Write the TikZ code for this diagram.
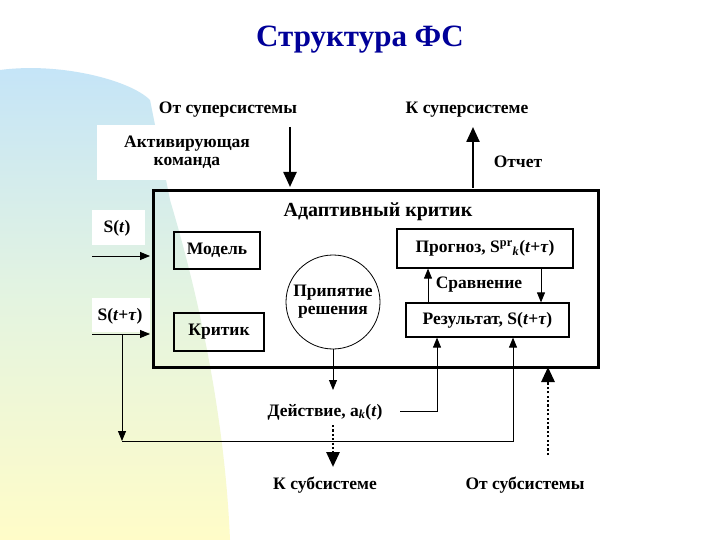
\documentclass[tikz,border=0pt]{standalone}
\usepackage{fontspec}
\setmainfont{Liberation Serif}
\usetikzlibrary{arrows.meta}
\definecolor{skyb}{HTML}{C4E4F8}
\definecolor{paley}{HTML}{FFFCC8}
\definecolor{midg}{HTML}{E4F4E0}
\begin{document}
\begin{tikzpicture}[x=1pt,y=-1pt,
  lbl/.style={font=\bfseries\fontsize{17.5}{18}\selectfont,align=center,inner sep=1pt},
  box/.style={draw,line width=1.2pt,inner sep=0pt},
  ar/.style={-{Triangle[length=10pt,width=8pt]},line width=0.9pt},
  bigar/.style={-{Triangle[length=15pt,width=13pt]},line width=2.4pt},
  dotar/.style={-{Triangle[length=15pt,width=13pt]},line width=2.8pt,dash pattern=on 2.2pt off 2.2pt}]
\useasboundingbox (0,0) rectangle (720,540);
\fill[white] (0,0) rectangle (720,540);
\shade[top color=skyb,bottom color=paley,middle color=midg]
  (0,70) .. controls (60,62) and (130,80) .. (150,100) -- (170,200) .. controls (200,300) and (225,420) .. (230,540) -- (0,540) -- cycle;
\fill[white] (97,125) rectangle (282,180);
\fill[white] (92,210) rectangle (145,245);
\fill[white] (92,298) rectangle (150,332);
\node[font=\bfseries\fontsize{31}{33}\selectfont,text=blue!60!black] (title) at (360,40) {Структура ФС};
\node[lbl] (fromsup) at (228,110) {От суперсистемы};
\node[lbl] (tosup) at (467,110) {К суперсистеме};
\node[lbl] (act) at (187,152) {Активирующая\\команда};
\node[lbl] (rep) at (518,162) {Отчет};
\coordinate (a1) at (290,127); \coordinate (a2) at (290,187);
\draw[bigar] (a1) -- (a2);
\coordinate (b1) at (473,188); \coordinate (b2) at (473,127);
\draw[bigar] (b1) -- (b2);
\draw[line width=3pt] (153,191) rectangle (598,367);
\node[lbl,font=\bfseries\fontsize{20}{21}\selectfont] (ac) at (378,212) {Адаптивный критик};
\node[box,minimum width=86pt,minimum height=37pt,lbl] (model) at (217,250.5) {Модель};
\node[box,minimum width=90pt,minimum height=38pt,lbl] (crit) at (219,332) {Критик};
\node[draw,circle,line width=0.8pt,minimum size=94pt,inner sep=0pt,lbl] (dec) at (333,302) {Припятие\\решения};
\node[box,minimum width=176pt,minimum height=39pt,lbl] (prog) at (485,248.5) {Прогноз, S\textsuperscript{pr}\textsubscript{\itshape k}(\textit{t}+\textit{τ})};
\node[box,minimum width=163pt,minimum height=34pt,lbl] (res) at (487.5,320) {Результат, S(\textit{t}+\textit{τ})};
\draw[ar] (res.north -| 428,0) -- (prog.south -| 428,0);
\draw[ar] (prog.south -| 541,0) -- (res.north -| 541,0);
\node[lbl] (cmp) at (479,285) {Сравнение};
\node[lbl] (st) at (117,228) {S(\textit{t})};
\node[lbl] (stt) at (120,316) {S(\textit{t}+\textit{τ})};
\coordinate (s1) at (92,256); \coordinate (s2) at (150,256);
\draw[ar] (s1) -- (s2);
\coordinate (s3) at (92,334); \coordinate (s4) at (150,334);
\draw[ar] (s3) -- (s4);
\coordinate (c1) at (122,334); \coordinate (c2) at (122,441);
\draw[ar] (c1) -- (c2);
\coordinate (c3) at (513,441);
\draw[ar] (c2) -- (c3) -- (c3 |- res.south);
\draw[ar] (dec.south) -- (333,390);
\node[lbl] (act2) at (325,412) {Действие, a\textsubscript{\itshape k}(\textit{t})};
\coordinate (d1) at (400,411); \coordinate (d2) at (437,411);
\draw[ar] (d1) -- (d2) -- (d2 |- res.south);
\coordinate (e1) at (333,425); \coordinate (e2) at (333,467);
\draw[dotar] (e1) -- (e2);
\coordinate (f1) at (548,455); \coordinate (f2) at (548,367);
\draw[dotar] (f1) -- (f2);
\node[lbl] (tosub) at (325,485) {К субсистеме};
\node[lbl] (fromsub) at (525,485) {От субсистемы};
\end{tikzpicture}
\end{document}
